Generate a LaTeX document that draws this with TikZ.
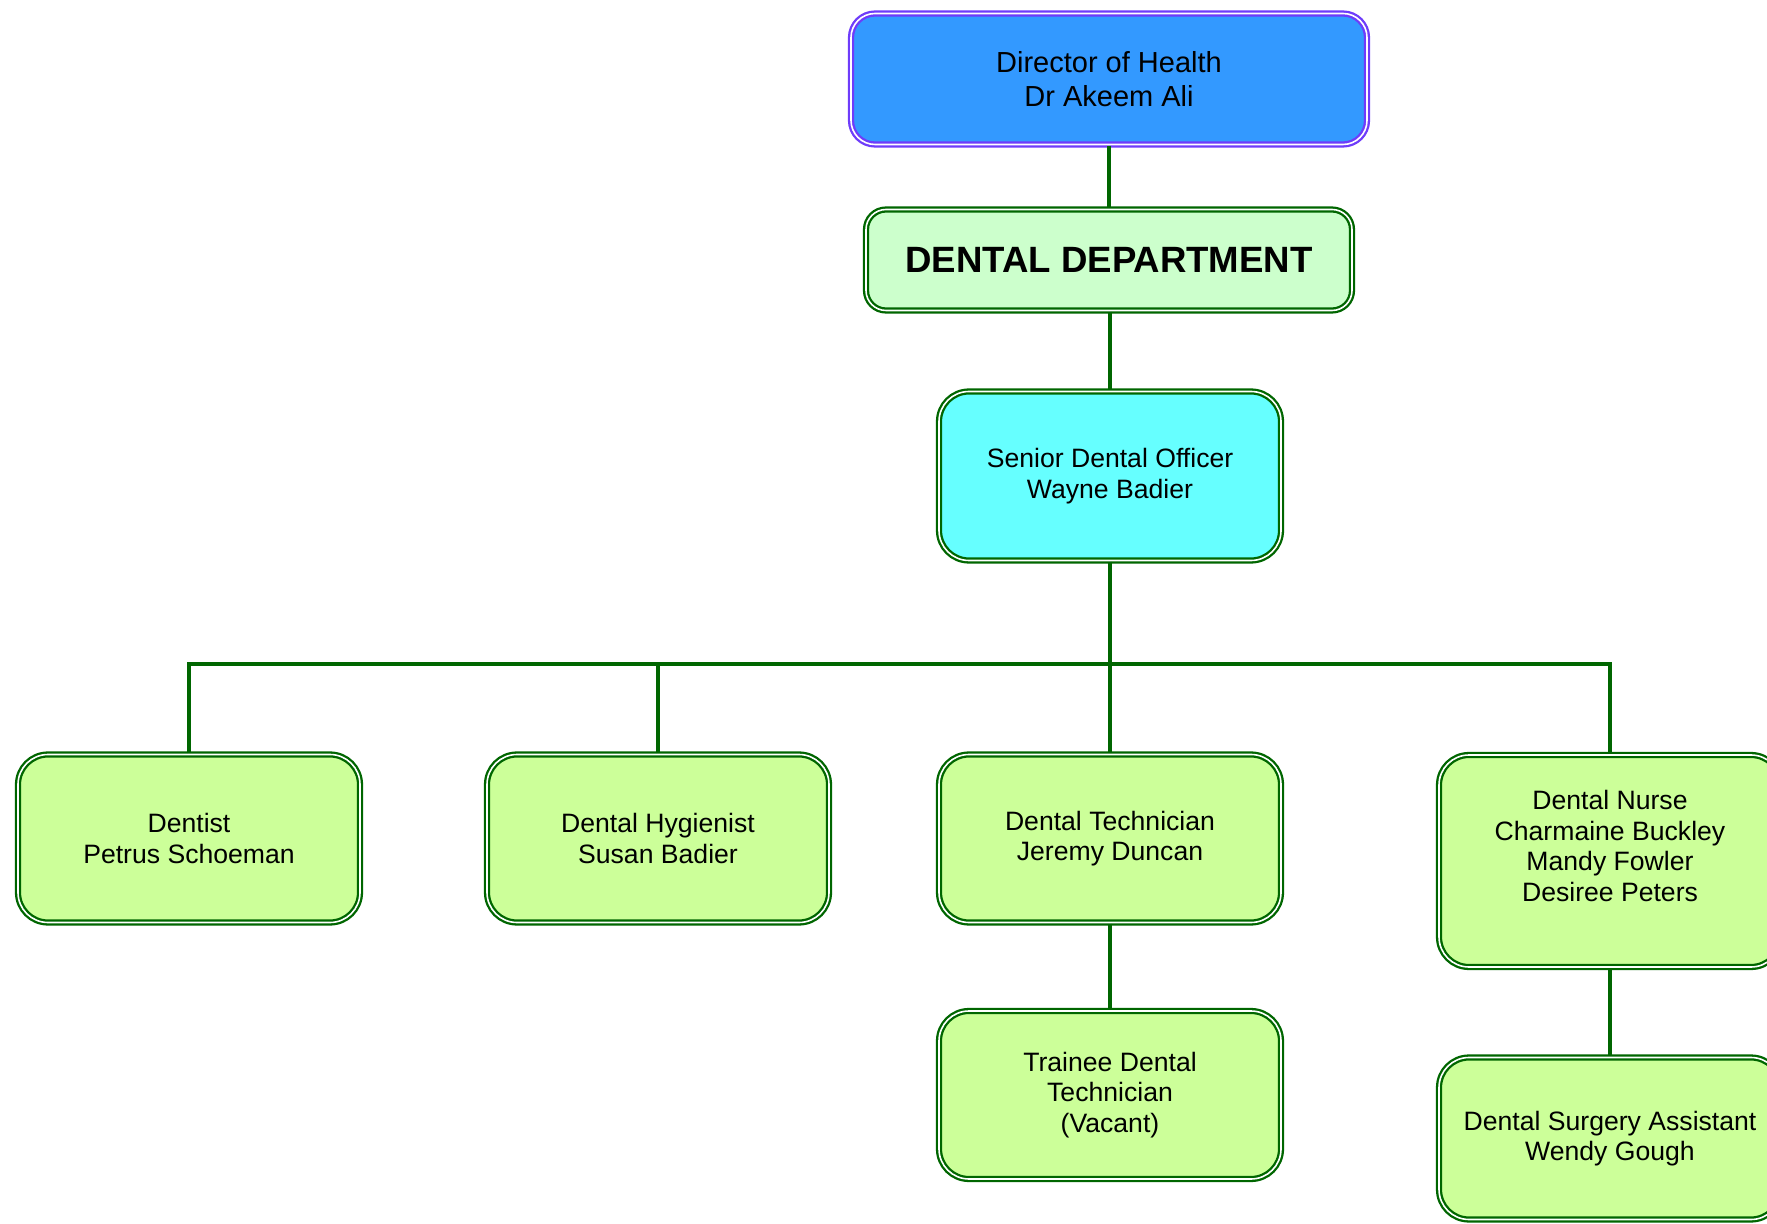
\documentclass[tikz,border=0pt]{standalone}
\usepackage{fontspec}
\setmainfont{Liberation Sans}
\usepackage{tikz}
\usetikzlibrary{calc}
\definecolor{dgreen}{RGB}{0,102,0}
\definecolor{dirframe}{RGB}{110,60,250}
\definecolor{dirblue}{RGB}{51,153,255}
\definecolor{deptgreen}{RGB}{204,255,204}
\definecolor{sdocyan}{RGB}{102,255,255}
\definecolor{staffgreen}{RGB}{204,255,153}
\tikzstyle{orgbox}=[draw=dgreen,double=white,line width=1.15pt,double distance=.8pt,align=center,inner sep=0pt,font=\fontsize{13.3}{15.2}\selectfont]
\tikzstyle{staff}=[orgbox,fill=staffgreen,rounded corners=15pt,minimum width=171pt,minimum height=84pt]
\tikzstyle{link}=[draw=dgreen,line width=2.4pt]

\begin{document}
\begin{tikzpicture}[x=.5pt,y=-.5pt]
	\useasboundingbox (0,0) rectangle (1767,1224);
	\node[orgbox,fill=dirblue,draw=dirframe,rounded corners=12pt,minimum width=258pt,minimum height=65.5pt,font=\fontsize{14.5}{17}\selectfont] (dir) at (1109,79) {Director of Health\\Dr Akeem Ali};
	\node[orgbox,fill=deptgreen,rounded corners=10pt,minimum width=243pt,minimum height=50.5pt,font=\fontsize{18.3}{22}\selectfont\bfseries] (dept) at (1109,260) {DENTAL DEPARTMENT};
	\node[orgbox,fill=sdocyan,rounded corners=15pt,minimum width=171pt,minimum height=84.5pt] (sdo) at (1110,476) {Senior Dental Officer\\Wayne Badier};
	\node[staff] (dentist) at (189,838.5) {Dentist\\Petrus Schoeman};
	\node[staff] (hyg) at (658,838.5) {Dental Hygienist\\Susan Badier};
	\node[staff] (tech) at (1110,838.5) {Dental Technician\\Jeremy Duncan};
	\node[staff,minimum height=106pt] (nurse) at (1610,861) {Dental Nurse\\Charmaine Buckley\\Mandy Fowler\\Desiree Peters\\ \mbox{}};
	\node[staff] (trainee) at (1110,1095) {Trainee Dental\\Technician\\(Vacant)};
	\node[staff,minimum height=81pt] (dsa) at (1610,1138.5) {Dental Surgery Assistant\\Wendy Gough};
	\coordinate (bus) at (1110,664);
	\draw[link] (dir) -- (dept);
	\draw[link] (dept.south -| sdo.north) -- (sdo.north);
	\draw[link] (sdo) -- (tech);
	\draw[link] (dentist.north) |- (bus) -| (nurse.north);
	\draw[link] (hyg.north) -- (hyg.north |- bus);
	\draw[link] (tech) -- (trainee);
	\draw[link] (nurse) -- (dsa);
\end{tikzpicture}
\end{document}
